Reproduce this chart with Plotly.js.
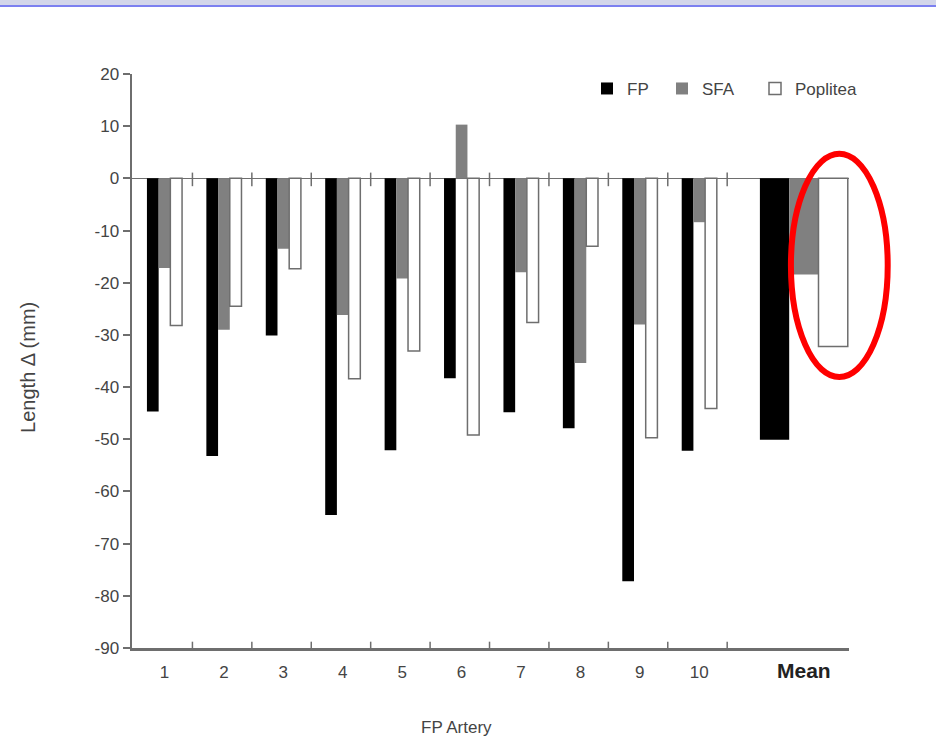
<!DOCTYPE html>
<html>
<head>
<meta charset="utf-8">
<script src="https://cdn.plot.ly/plotly-3.0.1.min.js"></script>
<style>
  html, body { margin: 0; padding: 0; background: #fff; }
  #banner { position: absolute; left: 0; top: 0; width: 936px; height: 5px; background: #d3d6ea; border-bottom: 2px solid #7c80f0; z-index: 5; }
  #chart { position: absolute; left: 0; top: 0; width: 936px; height: 739px; }
</style>
</head>
<body>
<div id="banner"></div>
<div id="chart"></div>
<script>
// ---- data ----
const categories = ["1", "2", "3", "4", "5", "6", "7", "8", "9", "10", "Mean"];
const categoryPos = [1, 2, 3, 4, 5, 6, 7, 8, 9, 10, 11.76];
const fpValues = [-44.7, -53.2, -30.1, -64.5, -52.1, -38.3, -44.8, -47.9, -77.2, -52.2, -50.1];
const sfaValues = [-17.2, -29.0, -13.5, -26.2, -19.2, 10.3, -18.0, -35.4, -28.0, -8.4, -18.4];
const popliteaValues = [-28.2, -24.5, -17.3, -38.4, -33.1, -49.2, -27.6, -13.0, -49.7, -44.1, -32.2];
const yTicks = [20, 10, 0, -10, -20, -30, -40, -50, -60, -70, -80, -90];
const yTickText = yTicks.map(v => String(v));

// ---- styling / layout helpers ----
const w = 0.197;      // individual bar width (axis units)
const W = 0.493;      // mean bar width
const widths = categories.map(c => c === "Mean" ? W : w);
function offsets(k) { return widths.map(b => b * k); }

const tickText = categories.map(c => c === "Mean"
  ? '<span style="font-size:21px;font-weight:bold;color:#222">Mean</span>' : c);

const traces = [
  { type: 'bar', name: 'FP', x: categoryPos, y: fpValues, width: widths, offset: offsets(-1.5),
    marker: { color: '#000000', line: { width: 0 } }, legend: 'legend' },
  { type: 'bar', name: 'SFA', x: categoryPos, y: sfaValues, width: widths, offset: offsets(-0.5),
    marker: { color: '#808080', line: { width: 0 } }, legend: 'legend2' },
  { type: 'bar', name: 'Poplitea', x: categoryPos, y: popliteaValues, width: widths, offset: offsets(0.5),
    marker: { color: '#ffffff', line: { color: '#6e6e6e', width: 1.5 } }, legend: 'legend3' }
];

// boundary ticks between categories
const boundaries = categoryPos.slice(0, 10).map(p => p + 0.47);
const shapes = [];
boundaries.forEach(b => {
  shapes.push({ type: 'line', xref: 'x', yref: 'paper', x0: b, x1: b, y0: 0, y1: 0.011,
    line: { color: '#6e6e6e', width: 1.5 } });
  shapes.push({ type: 'line', xref: 'x', yref: 'y', x0: b, x1: b, y0: 1.1, y1: -1.5,
    line: { color: '#6e6e6e', width: 1.5 } });
});
// red highlight ellipse around the Mean SFA / Poplitea bars
shapes.push({ type: 'circle', xref: 'paper', yref: 'paper', x0: 0.919, x1: 1.054, y0: 0.472, y1: 0.861,
  line: { color: '#ff0000', width: 6 } });

const legendBase = { orientation: 'h', xanchor: 'left', y: 0.974, yanchor: 'middle',
  font: { size: 17, color: '#444' }, bgcolor: 'rgba(0,0,0,0)' };

const layout = {
  width: 936, height: 739,
  margin: { l: 132, r: 87, t: 74, b: 91 },
  paper_bgcolor: '#ffffff', plot_bgcolor: '#ffffff',
  font: { family: 'Liberation Sans, Arial, sans-serif', color: '#444', size: 14 },
  barmode: 'overlay',
  showlegend: true,
  legend: Object.assign({}, legendBase, { x: 0.6346 }),
  legend2: Object.assign({}, legendBase, { x: 0.7392 }),
  legend3: Object.assign({}, legendBase, { x: 0.8689 }),
  xaxis: {
    type: 'linear', range: [0.453, 12.52], fixedrange: true,
    tickmode: 'array', tickvals: categoryPos, ticktext: tickText,
    ticks: 'outside', ticklen: 7, tickcolor: 'rgba(0,0,0,0)',
    showgrid: false, zeroline: false,
    showline: true, linecolor: '#6e6e6e', linewidth: 2.5,
    tickfont: { size: 17, color: '#444' }
  },
  yaxis: {
    range: [-90, 20], fixedrange: true,
    tickmode: 'array', tickvals: yTicks, ticktext: yTickText,
    ticks: 'outside', ticklen: 7, tickwidth: 2, tickcolor: '#6e6e6e',
    showgrid: false,
    zeroline: true, zerolinecolor: '#6e6e6e', zerolinewidth: 1.5,
    showline: true, linecolor: '#6e6e6e', linewidth: 2.5,
    tickfont: { size: 17, color: '#444' }
  },
  shapes: shapes,
  annotations: [
    { text: 'Length Δ (mm)', xref: 'paper', yref: 'paper', x: -0.145, y: 0.488,
      xanchor: 'center', yanchor: 'middle',
      textangle: -90, showarrow: false, font: { size: 20, color: '#444' } },
    { text: 'FP Artery', xref: 'paper', yref: 'paper', x: 0.452, y: -0.139,
      xanchor: 'center', yanchor: 'middle',
      showarrow: false, font: { size: 17, color: '#444' } }
  ]
};

Plotly.newPlot('chart', traces, layout, { displayModeBar: false, staticPlot: true });
</script>
</body>
</html>
